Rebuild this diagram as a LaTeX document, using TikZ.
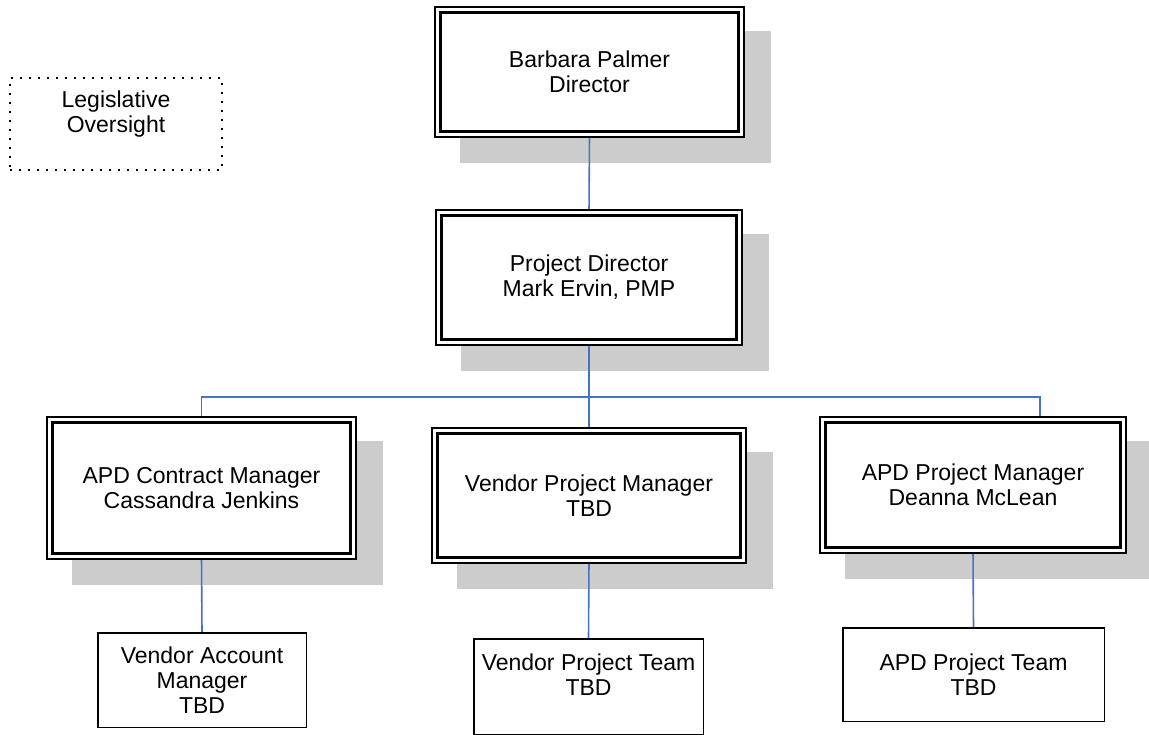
\documentclass[tikz,border=0pt]{standalone}
\usepackage{fontspec}
\setmainfont{Liberation Sans}
\usetikzlibrary{calc}
\pgfdeclarelayer{shadowlayer}
\pgfdeclarelayer{wirelayer}
\pgfsetlayers{shadowlayer,wirelayer,main}
\definecolor{wireblue}{RGB}{68,114,196}
\definecolor{shadowgray}{RGB}{204,204,204}

\begin{document}
\begin{tikzpicture}[x=1pt,y=-1pt,
  every node/.style={font=\fontsize{23pt}{25pt}\selectfont, align=center, inner sep=0pt, outer sep=0pt},
  lead/.style={draw=black, fill=white, double=white, double distance=2.8pt, line width=2.4pt},
  team/.style={draw=black, fill=white, line width=1.5pt},
  wire/.style={draw=wireblue, line width=1.6pt},
  shade/.style={fill=shadowgray},
  oversight/.style={draw=black, line width=1.6pt, dash pattern=on 1.6pt off 7.4pt}]

\useasboundingbox (0,0) rectangle (1149,734);

% oversight box
\node[oversight, minimum width=212pt, minimum height=92pt] (lo) at (116,124) {Legislative\\Oversight\\\mbox{}};

% leadership boxes (double border)
\node[lead, minimum width=303.4pt, minimum height=124.4pt] (bp) at (589.5,72) {Barbara Palmer\\Director};
\node[lead, minimum width=300.4pt, minimum height=129.4pt] (pd) at (589,277.5) {Project Director\\Mark Ervin, PMP};
\node[lead, minimum width=303.4pt, minimum height=136.4pt] (acm) at (201.5,488) {APD Contract Manager\\Cassandra Jenkins};
\node[lead, minimum width=308.4pt, minimum height=129.4pt] (vpm) at (589,495.5) {Vendor Project Manager\\TBD};
\node[lead, minimum width=300.4pt, minimum height=130.4pt] (apm) at (973,485) {APD Project Manager\\Deanna McLean};

% team boxes (single border)
\node[team, minimum width=208.5pt, minimum height=94.5pt] (vam) at (202,680) {Vendor Account\\Manager\\TBD};
\node[team, minimum width=229.5pt, minimum height=96pt] (vpt) at (588.5,687) {Vendor Project Team\\TBD\\\mbox{}};
\node[team, minimum width=261.5pt, minimum height=93.5pt] (apt) at (973.5,674.5) {APD Project Team\\TBD};

% drop shadows behind the leadership boxes
\begin{pgfonlayer}{shadowlayer}
  \foreach \n in {bp,pd,acm,vpm,apm}
    \fill[shade] ($(\n.north west)+(22.2,20.7)$) rectangle ($(\n.south east)+(29.8,28.3)$);
\end{pgfonlayer}

% reporting lines
\coordinate (bus) at (589,397);
\coordinate (busR) at (1040,397);
\begin{pgfonlayer}{wirelayer}
  \draw[wire] (bp.south) -- (pd.north);
  \draw[wire] (pd.south) -- (vpm.north);
  \draw[wire] (bus) -| (acm.north);
  \draw[wire] (bus) -| (busR) -- (busR |- apm.north);
  \draw[wire] (acm.south) -- (vam.north);
  \draw[wire] (vpm.south) -- (vpt.north);
  \draw[wire] (apm.south) -- (apt.north);
\end{pgfonlayer}
\end{tikzpicture}
\end{document}
